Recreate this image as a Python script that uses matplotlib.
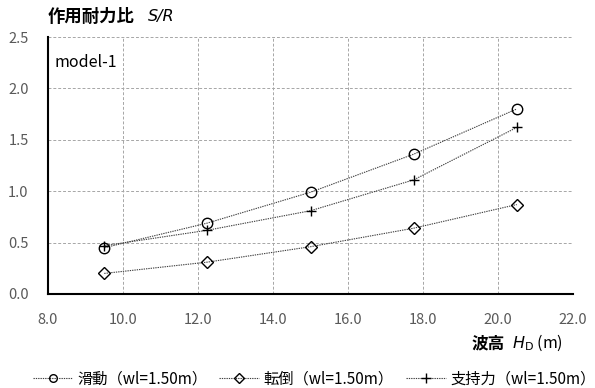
import matplotlib.pyplot as plt
from matplotlib.lines import Line2D

plt.rcParams["font.family"] = ["Noto Sans CJK JP", "DejaVu Sans"]

# Data
wave_height = [9.5, 12.25, 15.0, 17.75, 20.5]
sliding = [0.45, 0.69, 0.99, 1.36, 1.80]
overturning = [0.20, 0.31, 0.46, 0.64, 0.87]
bearing = [0.47, 0.62, 0.81, 1.11, 1.62]

labels = ["滑動（wl=1.50m）", "転倒（wl=1.50m）", "支持力（wl=1.50m）"]
markers = ["o", "D", "+"]
marker_sizes = [7.5, 6.5, 7.5]
legend_marker_sizes = [5.5, 5.0, 7.0]

line_color = "#404040"
line_style = (0, (1.2, 0.9))

fig = plt.figure(figsize=(5.95, 3.88), dpi=100)
ax = fig.add_axes([0.0807, 0.2423, 0.8823, 0.6623])

for y, m, ms, lab in zip([sliding, overturning, bearing], markers, marker_sizes, labels):
    ax.plot(wave_height, y, linestyle=line_style, linewidth=0.8, color=line_color,
            marker=m, markersize=ms, markerfacecolor="none",
            markeredgecolor="black", markeredgewidth=1.0, label=lab)

ax.set_xlim(8.0, 22.0)
ax.set_ylim(0.0, 2.5)
ax.set_xticks([8, 10, 12, 14, 16, 18, 20, 22])
ax.set_yticks([0.0, 0.5, 1.0, 1.5, 2.0, 2.5])
ax.set_xticklabels([f"{v:.1f}" for v in ax.get_xticks()])
ax.set_yticklabels([f"{v:.1f}" for v in ax.get_yticks()])
ax.tick_params(axis="both", length=0, labelsize=10.5, colors="#595959")
ax.tick_params(axis="x", pad=14)
ax.tick_params(axis="y", pad=14)

ax.grid(True, color="#A6A6A6", linestyle=(0, (3, 2)), linewidth=0.7)
ax.set_axisbelow(True)
for s in ["top", "right"]:
    ax.spines[s].set_visible(False)
ax.spines["left"].set_linewidth(1.5)
ax.spines["bottom"].set_linewidth(1.5)
ax.spines["left"].set_color("black")
ax.spines["bottom"].set_color("black")

ax.text(0.012, 0.935, "model-1", transform=ax.transAxes, fontsize=11.5, va="top", ha="left")

# Axis titles
fig.text(48 / 595, 1 - 17 / 388, "作用耐力比", fontsize=12.5, fontweight="bold", va="center", ha="left")
fig.text(148 / 595, 1 - 17 / 388, "S/R", fontsize=11.5, fontstyle="italic", va="center", ha="left",
         family=["DejaVu Sans"])
fig.text(472 / 595, 1 - 343 / 388, "波高", fontsize=12, fontweight="bold", va="center", ha="left")
fig.text(512 / 595, 1 - 343 / 388, r"$H_{\mathrm{D}}$ (m)", fontsize=11.5, va="center", ha="left")

handles = [Line2D([0], [0], linestyle=line_style, linewidth=0.8, color=line_color,
                  marker=m, markersize=ms, markerfacecolor="none",
                  markeredgecolor="black", markeredgewidth=1.0)
           for m, ms in zip(markers, legend_marker_sizes)]
fig.legend(handles, labels, loc="center", bbox_to_anchor=(0.528, 1 - 379 / 388), ncol=3,
           frameon=False, fontsize=11, handlelength=2.6, columnspacing=0.8,
           handletextpad=0.3, borderpad=0.1, borderaxespad=0.0)

fig.savefig("out.png", dpi=100)
